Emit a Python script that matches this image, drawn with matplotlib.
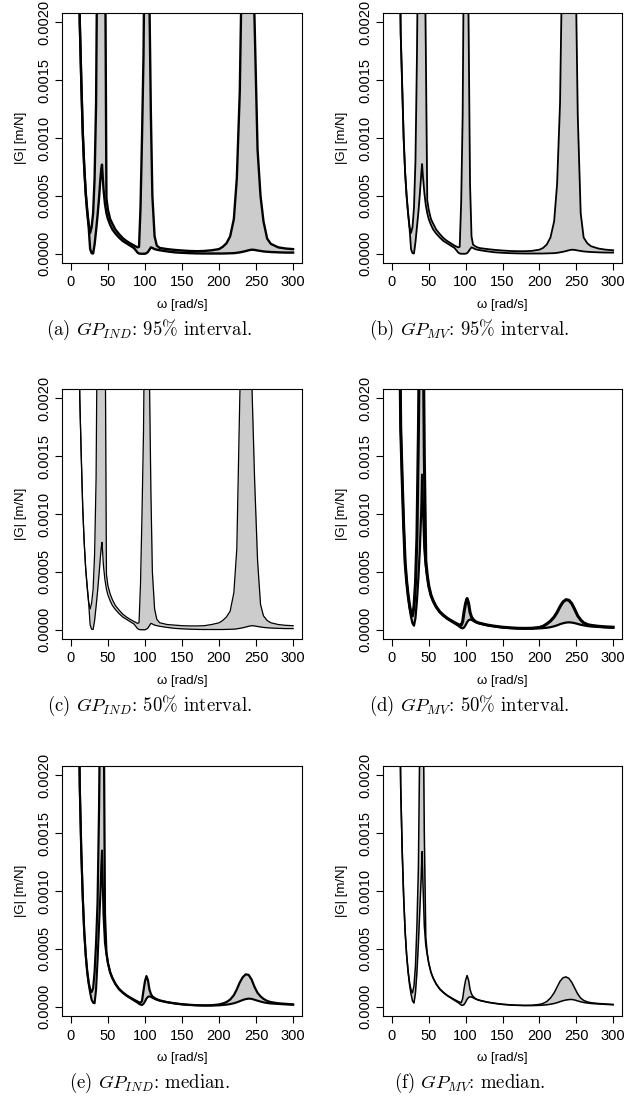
import numpy as np
import matplotlib.pyplot as plt

plt.rcParams['font.family'] = ['Liberation Sans', 'DejaVu Sans']
plt.rcParams['mathtext.fontset'] = 'cm'

# values of |G| are given in units of 1e-4 m/N
scale = 1e-4

omega = [10, 12, 14, 16, 18, 20, 22, 24, 26, 28,
         30, 32, 34, 36, 38, 40, 41, 42, 44, 46, 48,
         50, 53, 56, 60, 65, 70, 75, 80, 85, 90,
         92, 94, 96, 98, 100, 102, 104, 106, 108, 110,
         113, 116, 120, 130, 140, 150, 160, 170, 180, 190,
         200, 205, 210, 215, 220, 224, 228, 232, 236, 240,
         244, 248, 252, 256, 260, 265, 270, 280, 290, 300]

# (a) GP_IND 95%
a_upper = [30, 20, 15, 10.5, 7.5, 5.3, 3.8, 2.6, 1.8, 2.3,
           3.5, 6.5, 13, 30, 30, 30, 30, 30, 30, 30, 4.8,
           3.8, 3.0, 2.6, 2.1, 1.7, 1.35, 1.1, 0.9, 0.72, 0.55,
           0.6, 4, 10, 17, 30, 30, 30, 22, 12, 5,
           1.5, 0.7, 0.5, 0.4, 0.33, 0.28, 0.24, 0.22, 0.24, 0.3,
           0.4, 0.6, 0.9, 1.5, 3, 6.5, 14, 30, 30, 30,
           30, 20, 9, 5, 2.8, 1.3, 0.85, 0.55, 0.45, 0.4]
a_lower = [30, 20, 15, 10.5, 7.5, 5.2, 3.6, 2.3, 0.4, 0.05,
           0.02, 0.8, 2.0, 3.3, 4.8, 6.6, 7.3, 7.7, 5.6, 4.3, 3.5,
           3.0, 2.5, 2.1, 1.75, 1.4, 1.1, 0.9, 0.7, 0.5, 0.1,
           0.02, 0.0, 0.0, 0.0, 0.0, 0.05, 0.15, 0.35, 0.55, 0.5,
           0.4, 0.35, 0.3, 0.2, 0.12, 0.08, 0.05, 0.03, 0.02, 0.02,
           0.02, 0.02, 0.03, 0.04, 0.05, 0.08, 0.12, 0.17, 0.23, 0.3,
           0.35, 0.33, 0.28, 0.24, 0.2, 0.17, 0.15, 0.12, 0.1, 0.1]

# (b) GP_MV 95%
b_upper = [30, 19, 14.5, 10, 7, 5, 3.5, 2.3, 1.8, 2.3,
           4, 8, 17, 30, 30, 30, 30, 30, 30, 18, 4.6,
           3.8, 3.0, 2.6, 2.1, 1.7, 1.35, 1.1, 0.9, 0.7, 0.55,
           0.6, 4.5, 12, 30, 30, 30, 20, 6, 1.5, 0.8,
           0.65, 0.55, 0.48, 0.4, 0.33, 0.28, 0.24, 0.22, 0.22, 0.25,
           0.35, 0.5, 0.8, 1.4, 2.8, 6, 13, 30, 30, 30,
           30, 30, 12, 3.5, 1.4, 0.9, 0.65, 0.45, 0.35, 0.3]
b_lower = [30, 19, 14.5, 10, 7, 5, 3.5, 2.2, 0.4, 0.05,
           0.02, 1.0, 2.3, 3.6, 5.2, 7.0, 7.75, 6.8, 5.3, 4.2, 3.5,
           3.0, 2.5, 2.1, 1.75, 1.4, 1.1, 0.9, 0.7, 0.5, 0.1,
           0.02, 0.0, 0.0, 0.0, 0.0, 0.05, 0.2, 0.4, 0.55, 0.5,
           0.4, 0.35, 0.3, 0.2, 0.12, 0.08, 0.05, 0.03, 0.02, 0.02,
           0.02, 0.02, 0.03, 0.04, 0.05, 0.08, 0.12, 0.17, 0.23, 0.3,
           0.35, 0.33, 0.28, 0.24, 0.2, 0.17, 0.15, 0.12, 0.1, 0.1]

# (c) GP_IND 50%
c_upper = [30, 20, 15, 10.5, 7.5, 5.3, 3.8, 2.4, 1.8, 2.3,
           3.5, 6.5, 13, 30, 30, 30, 30, 30, 30, 30, 4.8,
           3.8, 3.1, 2.6, 2.1, 1.7, 1.35, 1.1, 0.9, 0.72, 0.55,
           0.6, 4, 10, 17, 30, 30, 30, 22, 12, 5,
           1.8, 0.9, 0.6, 0.45, 0.4, 0.35, 0.33, 0.33, 0.35, 0.45,
           0.6, 0.8, 1.1, 1.6, 3.2, 7, 20, 30, 30, 30,
           22, 13, 6, 2.2, 1.2, 0.8, 0.6, 0.45, 0.38, 0.35]
c_lower = [30, 20, 15, 10.5, 7.5, 5.2, 3.6, 2.3, 0.4, 0.05,
           0.02, 0.8, 2.0, 3.3, 4.8, 6.4, 7.1, 7.55, 5.5, 4.3, 3.5,
           3.0, 2.5, 2.1, 1.75, 1.4, 1.1, 0.9, 0.7, 0.5, 0.1,
           0.02, 0.0, 0.0, 0.0, 0.0, 0.05, 0.15, 0.35, 0.55, 0.5,
           0.4, 0.35, 0.3, 0.2, 0.12, 0.08, 0.05, 0.03, 0.02, 0.02,
           0.02, 0.02, 0.03, 0.04, 0.05, 0.08, 0.12, 0.17, 0.23, 0.3,
           0.35, 0.33, 0.28, 0.24, 0.2, 0.17, 0.15, 0.12, 0.1, 0.1]

# (d) GP_MV 50%
d_upper = [30, 17.5, 13, 9, 5.8, 4.2, 3.0, 2.1, 1.45, 1.2,
           2.0, 4, 8, 17, 30, 30, 30, 30, 15, 6, 4.7,
           3.8, 3.0, 2.5, 2.0, 1.55, 1.25, 1.0, 0.8, 0.62, 0.45,
           0.4, 0.38, 0.7, 1.6, 2.3, 2.7, 2.3, 1.5, 1.1, 0.9,
           0.72, 0.62, 0.55, 0.4, 0.3, 0.22, 0.17, 0.13, 0.12, 0.13,
           0.2, 0.3, 0.5, 0.75, 1.1, 1.5, 2.0, 2.4, 2.6, 2.55,
           2.25, 1.75, 1.2, 0.85, 0.6, 0.45, 0.38, 0.3, 0.25, 0.22]
d_lower = [30, 17.5, 13, 9, 5.8, 4.2, 3.0, 1.9, 1.1, 0.55,
           0.35, 1.0, 2.5, 4.5, 7.0, 10.5, 13.4, 11, 7, 5.5, 4.6,
           3.75, 2.95, 2.45, 1.95, 1.5, 1.2, 0.95, 0.75, 0.55, 0.35,
           0.25, 0.15, 0.12, 0.2, 0.4, 0.65, 0.82, 0.88, 0.85, 0.78,
           0.68, 0.6, 0.52, 0.38, 0.28, 0.2, 0.15, 0.12, 0.1, 0.1,
           0.12, 0.14, 0.17, 0.22, 0.3, 0.38, 0.48, 0.56, 0.62, 0.64,
           0.62, 0.57, 0.5, 0.43, 0.38, 0.32, 0.28, 0.24, 0.2, 0.17]

# (e) GP_IND median
e_upper = [30, 19, 13.5, 9.5, 6.5, 4.5, 3.1, 2.1, 1.5, 1.27,
           1.6, 3, 5.5, 9, 17, 30, 30, 30, 30, 8, 4.7,
           3.8, 3.0, 2.5, 2.0, 1.55, 1.25, 1.0, 0.8, 0.62, 0.45,
           0.38, 0.35, 0.5, 1.4, 2.2, 2.65, 2.3, 1.5, 1.1, 0.9,
           0.75, 0.65, 0.55, 0.4, 0.3, 0.22, 0.17, 0.13, 0.12, 0.13,
           0.2, 0.28, 0.4, 0.62, 1.0, 1.5, 2.1, 2.55, 2.8, 2.75,
           2.35, 1.7, 1.2, 0.9, 0.68, 0.5, 0.4, 0.3, 0.25, 0.2]
e_lower = [30, 19, 13.5, 9.5, 6.5, 4.5, 3.0, 2.0, 1.2, 0.6,
           0.35, 0.3, 1.5, 4, 7, 10, 12, 13.5, 8, 5.5, 4.55,
           3.75, 2.95, 2.45, 1.95, 1.5, 1.2, 0.95, 0.75, 0.55, 0.35,
           0.25, 0.18, 0.15, 0.25, 0.45, 0.7, 0.85, 0.9, 0.85, 0.78,
           0.68, 0.6, 0.52, 0.38, 0.28, 0.2, 0.15, 0.12, 0.1, 0.1,
           0.12, 0.15, 0.18, 0.23, 0.3, 0.38, 0.48, 0.58, 0.66, 0.7,
           0.68, 0.6, 0.52, 0.45, 0.38, 0.32, 0.28, 0.24, 0.2, 0.17]

# (f) GP_MV median
f_upper = [30, 19, 13.5, 9.5, 6.5, 4.5, 3.1, 2.1, 1.45, 1.2,
           1.8, 3.5, 7, 12, 24, 30, 30, 30, 15, 6, 4.6,
           3.8, 3.0, 2.5, 2.0, 1.55, 1.25, 1.0, 0.8, 0.62, 0.45,
           0.4, 0.35, 0.7, 1.6, 2.3, 2.7, 2.3, 1.5, 1.1, 0.9,
           0.72, 0.62, 0.55, 0.4, 0.3, 0.22, 0.17, 0.13, 0.12, 0.13,
           0.2, 0.28, 0.45, 0.75, 1.2, 1.7, 2.2, 2.5, 2.58, 2.45,
           2.1, 1.6, 1.1, 0.75, 0.55, 0.42, 0.35, 0.28, 0.24, 0.2]
f_lower = [30, 19, 13.5, 9.5, 6.5, 4.5, 3.0, 1.9, 1.1, 0.5,
           0.32, 1.2, 3, 5.5, 8.5, 11.5, 13.4, 11, 7, 5.3, 4.5,
           3.75, 2.95, 2.45, 1.95, 1.5, 1.2, 0.95, 0.75, 0.55, 0.35,
           0.25, 0.15, 0.12, 0.2, 0.4, 0.65, 0.8, 0.86, 0.84, 0.78,
           0.68, 0.6, 0.52, 0.38, 0.28, 0.2, 0.15, 0.12, 0.1, 0.1,
           0.12, 0.14, 0.17, 0.22, 0.28, 0.35, 0.44, 0.52, 0.58, 0.62,
           0.63, 0.58, 0.5, 0.43, 0.37, 0.32, 0.28, 0.24, 0.2, 0.17]

captions = [r"(a) $GP_{IND}$: 95% interval.", r"(b) $GP_{MV}$: 95% interval.",
            r"(c) $GP_{IND}$: 50% interval.", r"(d) $GP_{MV}$: 50% interval.",
            r"(e) $GP_{IND}$: median.", r"(f) $GP_{MV}$: median."]
uppers = [a_upper, b_upper, c_upper, d_upper, e_upper, f_upper]
lowers = [a_lower, b_lower, c_lower, d_lower, e_lower, f_lower]
line_widths = [1.7, 1.3, 0.9, 1.6, 1.5, 1.1]
upper_widths = [1.7, 1.3, 0.9, 2.2, 1.6, 1.1]

yticks = [0.0, 0.0005, 0.0010, 0.0015, 0.0020]
xticks = [0, 50, 100, 150, 200, 250, 300]

W, H = 626, 1106
fig = plt.figure(figsize=(W / 100, H / 100), dpi=100)

col_left = [62, 383]
col_width = [240, 239]
row_top = [13, 389, 766]
box_h = 250
cap_y = [330, 706, 1083]

w = np.array(omega)
for i in range(6):
    r, c = divmod(i, 2)
    ax = fig.add_axes([col_left[c] / W, 1 - (row_top[r] + box_h) / H,
                       col_width[c] / W, box_h / H])
    up = np.array(uppers[i]) * scale
    lo = np.array(lowers[i]) * scale
    ax.fill_between(w, lo, up, color='#cccccc', lw=0)
    ax.plot(w, up, color='black', lw=upper_widths[i], solid_joinstyle='round')
    ax.plot(w, lo, color='black', lw=line_widths[i], solid_joinstyle='round')

    ax.set_xlim(-12, 312)
    ax.set_ylim(-0.00008, 0.00208)
    ax.set_xticks(xticks)
    ax.set_yticks(yticks)
    ax.set_yticklabels(['%.4f' % v for v in yticks], rotation=90, va='center')
    ax.tick_params(direction='out', length=5, width=0.8, labelsize=10.5, pad=3)
    ax.tick_params(axis='x', pad=4)
    for s in ax.spines.values():
        s.set_linewidth(0.8)

    ax.set_xlabel('ω [rad/s]', fontsize=9.5)
    ax.xaxis.set_label_coords(0.5, -(305 - 263) / box_h)
    ax.xaxis.label.set_va('center')
    ax.set_ylabel('|G| [m/N]', fontsize=9.5)
    ax.yaxis.set_label_coords(-41 / col_width[c], 0.5)
    ax.yaxis.label.set_va('center')

    cx = (col_left[c] + col_width[c] / 2 - 33) / W
    fig.text(cx, 1 - cap_y[r] / H, captions[i], ha='center', va='center',
             fontsize=13.5, family='cmr10')

fig.savefig('out.png', dpi=100)
